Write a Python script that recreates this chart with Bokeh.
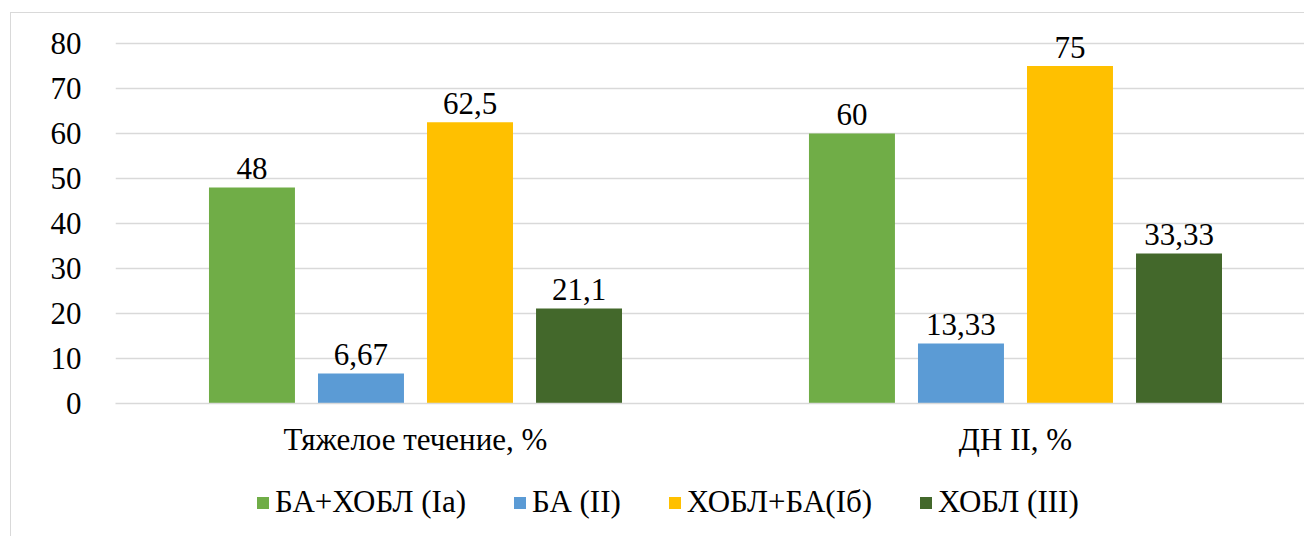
from bokeh.plotting import figure
from bokeh.layouts import column
from bokeh.models import (ColumnDataSource, Range1d, FixedTicker, Legend, LegendItem)
from bokeh.core.properties import value
from bokeh.embed import file_html
from bokeh.resources import INLINE

categories = ["Тяжелое течение, %", "ДН II, %"]
series_names = ["БА+ХОБЛ (Ia)", "БА (II)", "ХОБЛ+БА(Iб)", "ХОБЛ (III)"]
series_values = [
    [48, 60],
    [6.67, 13.33],
    [62.5, 75],
    [21.1, 33.33],
]
colors = ["#70AD47", "#5B9BD5", "#FFC000", "#43682B"]
y_ticks = [0, 10, 20, 30, 40, 50, 60, 70, 80]

FONT = "'Liberation Serif', 'Times New Roman', serif"
FS = "31px"

p = figure(width=1293, height=460, output_backend="svg", toolbar_location=None,
           x_range=Range1d(0, 1.9817), y_range=Range1d(0, 82.89),
           min_border_left=104, min_border_right=0, min_border_top=17,
           min_border_bottom=70)
p.outline_line_color = None
p.background_fill_color = "white"
p.border_fill_color = "white"

group_centers = [i + 0.5 for i in range(len(categories))]
step = 0.1817
bar_w = 0.1433
sources = []
for k, (name, vals, col) in enumerate(zip(series_names, series_values, colors)):
    xs = [c + (k - 1.5) * step for c in group_centers]
    labels = [f"{v:g}".replace(".", ",") for v in vals]
    src = ColumnDataSource(dict(x=xs, top=vals, label=labels))
    sources.append(src)
    p.vbar(x="x", top="top", width=bar_w, bottom=0, source=src,
           fill_color=col, line_color=None)
    p.text(x="x", y="top", text="label", source=src, y_offset=-19,
           text_align="center", text_baseline="alphabetic",
           text_font=value(FONT), text_font_size=FS, text_color="black")

p.ygrid.grid_line_color = "#d9d9d9"
p.ygrid.grid_line_width = 1.5
p.ygrid.ticker = FixedTicker(ticks=y_ticks)
p.xgrid.grid_line_color = None

p.yaxis.ticker = FixedTicker(ticks=y_ticks)
p.yaxis.axis_line_color = None
p.yaxis.major_tick_line_color = None
p.yaxis.minor_tick_line_color = None
p.yaxis.major_label_standoff = 28
p.yaxis.major_label_text_font = FONT
p.yaxis.major_label_text_font_size = FS
p.yaxis.major_label_text_color = "black"

p.xaxis.ticker = FixedTicker(ticks=group_centers)
p.xaxis.major_label_overrides = {c: lab for c, lab in zip(group_centers, categories)}
p.xaxis.axis_line_color = "#d9d9d9"
p.xaxis.axis_line_width = 1.5
p.xaxis.major_tick_line_color = None
p.xaxis.minor_tick_line_color = None
p.xaxis.major_label_standoff = 12
p.xaxis.major_label_text_font = FONT
p.xaxis.major_label_text_font_size = FS
p.xaxis.major_label_text_color = "black"

# legend strip: series renderers kept hidden, only the legend is shown
pl = figure(width=1293, height=63, output_backend="svg", toolbar_location=None,
            x_range=Range1d(0, 2), y_range=Range1d(0, 80),
            x_axis_type=None, y_axis_type=None, min_border=0)
pl.outline_line_color = None
pl.grid.visible = False
items = []
for name, col, src in zip(series_names, colors, sources):
    r = pl.vbar(x="x", top="top", width=bar_w, bottom=0, source=src,
                fill_color=col, line_color=None, visible=False)
    items.append(LegendItem(label=name, renderers=[r]))
legend = Legend(items=items, orientation="horizontal", location=(140, 16),
                glyph_width=15, glyph_height=15, label_standoff=5, spacing=46,
                padding=0, margin=0, border_line_color=None,
                background_fill_alpha=0, inactive_fill_alpha=0,
                label_text_font=FONT, label_text_font_size=FS,
                label_text_color="black")
pl.add_layout(legend, "center")

layout = column(p, pl, spacing=0)
layout.margin = (12, 0, 0, 10)
layout.styles = {"border-left": "1px solid #d9d9d9", "border-top": "1px solid #d9d9d9"}

open("out.html", "w").write(file_html(layout, INLINE))
